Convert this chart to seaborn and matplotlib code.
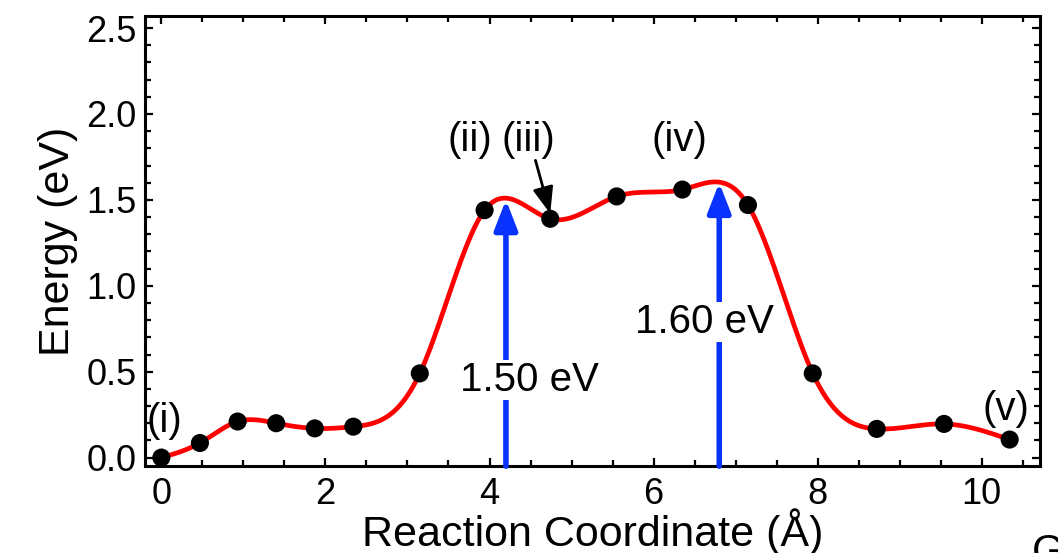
import numpy as np
import pandas as pd
import matplotlib
matplotlib.use("Agg")
import matplotlib.pyplot as plt
import seaborn as sns
from matplotlib.ticker import MultipleLocator

# ---- data ----
coord = [0.0, 0.47, 0.93, 1.40, 1.87, 2.34, 3.15, 3.94, 4.74, 5.55, 6.35, 7.15, 7.94, 8.72, 9.54, 10.34]
energy = [0.0, 0.085, 0.21, 0.20, 0.17, 0.18, 0.49, 1.44, 1.39, 1.52, 1.56, 1.47, 0.49, 0.167, 0.196, 0.105]
barrier_x = [4.2, 6.8]
barrier_e = [1.50, 1.60]
barrier_labels = ["1.50 eV", "1.60 eV"]
state_labels = ["(i)", "(ii)", "(iii)", "(iv)", "(v)"]
state_pos = [(0.04, 0.215), (3.76, 1.85), (4.47, 1.85), (6.32, 1.85), (10.30, 0.285)]
xticks = [0, 2, 4, 6, 8, 10]
yticks = [0.0, 0.5, 1.0, 1.5, 2.0, 2.5]


def natural_cubic(x, y, xs):
    x = np.asarray(x, float); y = np.asarray(y, float)
    n = len(x); h = np.diff(x)
    A = np.zeros((n, n)); b = np.zeros(n)
    A[0, 0] = A[-1, -1] = 1.0
    for i in range(1, n - 1):
        A[i, i - 1] = h[i - 1]
        A[i, i] = 2 * (h[i - 1] + h[i])
        A[i, i + 1] = h[i]
        b[i] = 3 * ((y[i + 1] - y[i]) / h[i] - (y[i] - y[i - 1]) / h[i - 1])
    c = np.linalg.solve(A, b)
    bb = (y[1:] - y[:-1]) / h - h * (2 * c[:-1] + c[1:]) / 3
    d = (c[1:] - c[:-1]) / (3 * h)
    idx = np.clip(np.searchsorted(x, xs) - 1, 0, n - 2)
    dx = xs - x[idx]
    return y[idx] + bb[idx] * dx + c[idx] * dx ** 2 + d[idx] * dx ** 3


xs = np.linspace(coord[0], coord[-1], 600)
curve = pd.DataFrame({"x": xs, "y": natural_cubic(coord, energy, xs)})
pts = pd.DataFrame({"x": coord, "y": energy})

sns.set_style("ticks", {"axes.edgecolor": "black", "text.color": "black",
                        "axes.labelcolor": "black", "xtick.color": "black",
                        "ytick.color": "black"})
plt.rcParams["font.family"] = ["Liberation Sans", "DejaVu Sans"]

fig = plt.figure(figsize=(10.58, 5.53), dpi=100)
ax = fig.add_axes([0.137, 0.157, 0.846, 0.814])

sns.lineplot(data=curve, x="x", y="y", ax=ax, color="#ff0000", lw=3.4, zorder=2)
sns.scatterplot(data=pts, x="x", y="y", ax=ax, color="black", s=170, edgecolor="none", zorder=3)

blue = "#0a32ff"
ymin = -0.05
for bx, be, lab, tpos in zip(barrier_x, barrier_e, barrier_labels, [(4.49, 0.45), (6.62, 0.79)]):
    ax.annotate("", xy=(bx, be), xytext=(bx, ymin),
                arrowprops=dict(arrowstyle="-|>,head_length=0.9,head_width=0.35",
                                color=blue, lw=4, mutation_scale=20,
                                shrinkA=0, shrinkB=0), zorder=4)
    ax.text(tpos[0], tpos[1], lab, fontsize=29, ha="center", va="center", zorder=5,
            color="black", bbox=dict(facecolor="white", edgecolor="none", pad=1))

for lab, (lx, ly) in zip(state_labels, state_pos):
    ax.text(lx, ly, lab, fontsize=29, ha="center", va="center", zorder=5, color="black")

ax.annotate("", xy=(4.74, 1.42), xytext=(4.56, 1.73),
            arrowprops=dict(arrowstyle="-|>,head_length=0.9,head_width=0.35",
                            color="black", lw=2, mutation_scale=18,
                            shrinkA=0, shrinkB=0), zorder=6)

ax.set_xlim(-0.2, 10.71)
ax.set_ylim(ymin, 2.57)
ax.set_xticks(xticks)
ax.set_yticks(yticks)
ax.set_yticklabels([f"{v:.1f}" for v in yticks])
ax.xaxis.set_minor_locator(MultipleLocator(0.5))
ax.yaxis.set_minor_locator(MultipleLocator(0.1))
ax.tick_params(which="both", direction="in", top=True, right=True, width=1.6,
               labelsize=26, colors="black")
ax.tick_params(axis="x", which="both", pad=8)
ax.tick_params(axis="y", which="both", pad=6)
ax.tick_params(which="major", length=6)
ax.tick_params(which="minor", length=4)
for sp in ax.spines.values():
    sp.set_linewidth(2.2)
    sp.set_color("black")
    sp.set_visible(True)

ax.set_xlabel("Reaction Coordinate (Å)", fontsize=31, labelpad=-3, color="black")
ax.set_ylabel("Energy (eV)", fontsize=31, labelpad=6, color="black")

fig.text(1032 / 1058, 0.036, "G", fontsize=30, ha="left", va="top", color="black")

fig.savefig("out.png", dpi=100)
